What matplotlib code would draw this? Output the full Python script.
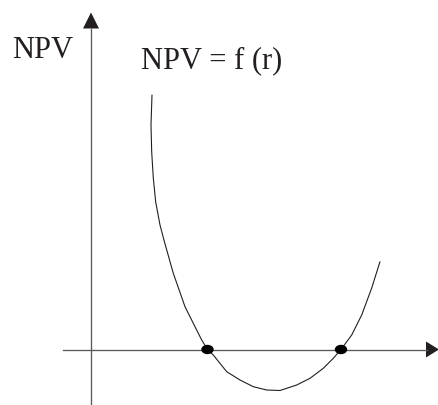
import matplotlib
matplotlib.use("Agg")
import matplotlib.pyplot as plt
from matplotlib.patches import Ellipse, Polygon

# Curve NPV = f(r) (origin where the axes cross)
rate = [61, 60, 60.7, 62.3, 64.7, 69, 73.5, 82.3, 94, 104, 110.7, 116.5,
        122.3, 135.7, 149, 162.3, 175.7, 189, 205.7, 219, 232.3, 242.3,
        250, 260.7, 270.7, 280.7, 289]
npv = [254.5, 224.5, 197.5, 171.5, 147.5, 124.5, 107.5, 76.2, 42.8, 22.8,
       9.5, 0, -5.5, -22.2, -30.5, -37.2, -40.5, -41, -35.5, -28.8, -18.8,
       -8.8, 0, 14.5, 34.5, 61.5, 87.8]

# Internal rates of return (roots of NPV)
roots = [116.5, 250]

axisLabel = "NPV"
curveLabel = "NPV = f (r)"

dark = "#231f20"
grey = "#5a5a5a"

fig = plt.figure(figsize=(4.39, 4.05), dpi=100)
ax = fig.add_axes([0, 0, 1, 1])
ax.set_xlim(-91, 348)
ax.set_ylim(-55.5, 349.5)
ax.axis("off")

# Axes with arrow heads
ax.plot([-28, 336], [0, 0], color=grey, lw=0.95)
ax.plot([0, 0], [-55, 321], color=grey, lw=0.95)
ax.add_patch(Polygon([[335, 8], [335, -8], [348, 0]], closed=True,
                     color=dark, lw=0))
ax.add_patch(Polygon([[-8, 321], [8, 321], [0, 337]], closed=True,
                     color=dark, lw=0))

# The curve
ax.plot(rate, npv, color=dark, lw=0.8, solid_joinstyle="round",
        solid_capstyle="round")

# Roots
for r in roots:
    ax.add_patch(Ellipse((r, 0), 11, 8, color="black", zorder=5))

# Labels
ax.text(-78.5, 291.2, axisLabel, family="Liberation Serif", fontsize=22,
        color=dark, ha="left", va="baseline")
ax.text(50.5, 281.2, curveLabel, family="Liberation Serif", fontsize=22,
        color=dark, ha="left", va="baseline")

fig.savefig("out.png", dpi=100)
